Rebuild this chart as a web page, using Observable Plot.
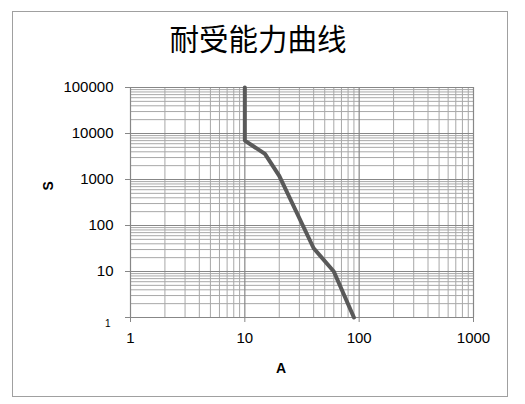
<!DOCTYPE html>
<html>
<head>
<meta charset="utf-8">
<script src="https://cdn.jsdelivr.net/npm/d3@7"></script>
<script src="https://cdn.jsdelivr.net/npm/@observablehq/plot@0.6"></script>
<style>
  html, body { margin: 0; padding: 0; background: #fff; }
  #wrap { position: relative; width: 525px; height: 404px; }
  #border { position: absolute; left: 12px; top: 11px; width: 494px; height: 384px;
            border: 1px solid #a0a0a0; pointer-events: none; }
</style>
</head>
<body>
<div id="wrap"><div id="border"></div></div>
<script>
const chartTitle = "耐受能力曲线";
const xLabel = "A";
const yLabel = "S";
const xTicks = [1, 10, 100, 1000];
const yTicks = [1, 10, 100, 1000, 10000, 100000];
const ampsA   = [10, 10, 15, 20, 40, 60, 90];
const secondsS = [100000, 7000, 3600, 1200, 32, 10, 1];

const data = ampsA.map((a, i) => ({a, s: secondsS[i]}));
const minorOf = (majors) => majors.slice(0, -1).flatMap(d => d3.range(2, 10).map(k => k * d));
const xMinor = minorOf(xTicks);
const yMinor = minorOf(yTicks);

const chart = Plot.plot({
  width: 525,
  height: 404,
  marginLeft: 130,
  marginRight: 52,
  marginTop: 87,
  marginBottom: 87,
  style: {fontFamily: "'Liberation Sans', Arial, sans-serif", fontSize: "15px", background: "transparent", overflow: "visible"},
  x: {type: "log", domain: [1, 1000]},
  y: {type: "log", domain: [1, 100000]},
  marks: [
    Plot.ruleX(xMinor, {stroke: "#a8a8a8", strokeWidth: 1, strokeOpacity: 1}),
    Plot.ruleY(yMinor, {stroke: "#a8a8a8", strokeWidth: 1, strokeOpacity: 1}),
    Plot.ruleX(xTicks, {stroke: "#878787", strokeWidth: 1.2, strokeOpacity: 1}),
    Plot.ruleY(yTicks, {stroke: "#878787", strokeWidth: 1.2, strokeOpacity: 1}),
    Plot.axisX({ticks: xTicks, tickSize: 5, tickPadding: 10, tickFormat: d => String(d), label: null, stroke: "#878787", fill: "#000", fontSize: 15}),
    Plot.axisY({ticks: yTicks, tickSize: 5, tickPadding: 12, tickFormat: d => d === 1 ? "" : String(d), label: null, stroke: "#878787", fill: "#000", fontSize: 15}),
    Plot.text([1], {y: d => d, text: d => String(d), frameAnchor: "left", dx: -20, dy: 6, textAnchor: "end", fontSize: 10, fill: "#000"}),
    Plot.line(data, {x: "a", y: "s", stroke: "#595959", strokeWidth: 4, strokeLinejoin: "miter"}),
    Plot.text([chartTitle], {text: d => d, frameAnchor: "top", dx: -44, dy: -58, fontSize: 29.5, fill: "#000", fontFamily: "'Noto Sans CJK SC', sans-serif"}),
    Plot.text([xLabel], {text: d => d, frameAnchor: "bottom", dx: -21, dy: 55, fontSize: 14, fontWeight: "bold", fill: "#000"}),
    Plot.text([yLabel], {text: d => d, frameAnchor: "left", dx: -82, dy: -12, rotate: -90, fontSize: 14, fontWeight: "bold", fill: "#000"})
  ]
});
document.getElementById("wrap").prepend(chart);
</script>
</body>
</html>
